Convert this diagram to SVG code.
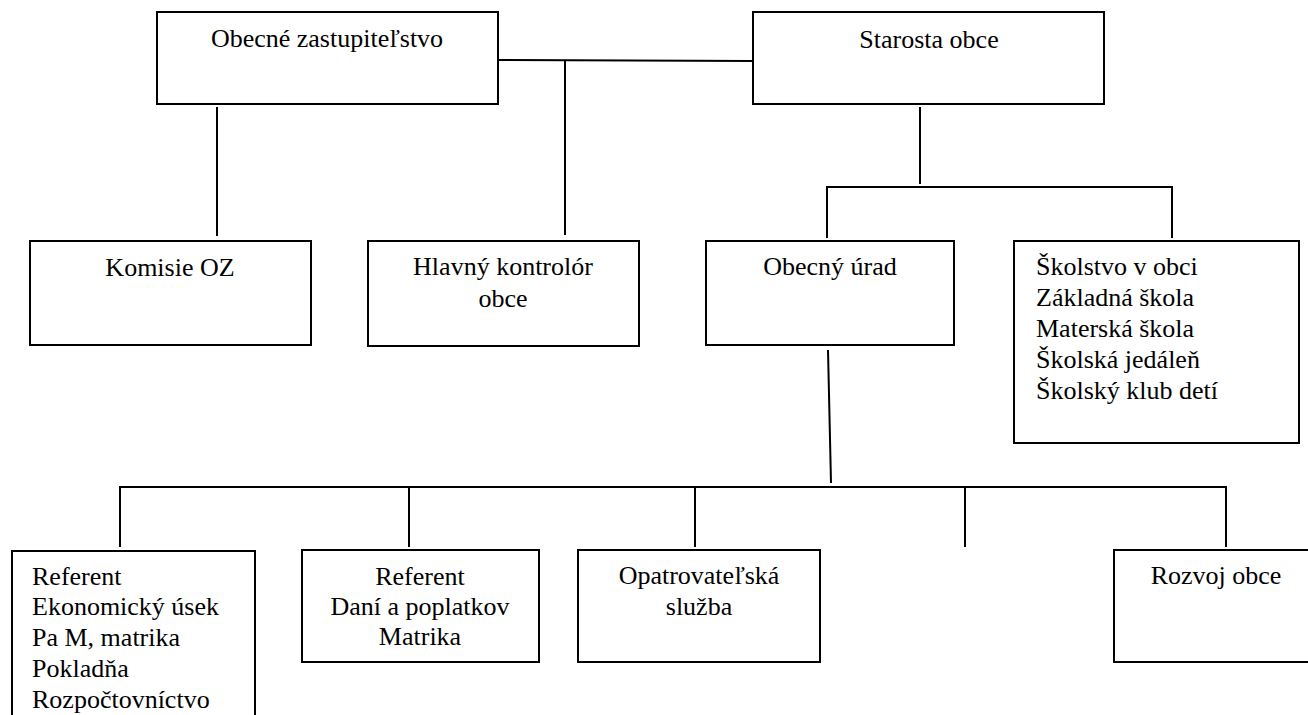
<svg xmlns="http://www.w3.org/2000/svg" width="1308" height="715" viewBox="0 0 1308 715">
<style>
.box{fill:#fff;stroke:#000;stroke-width:2}
.ln{stroke:#000;stroke-width:2;fill:none}
text{font-family:'Liberation Serif','Times New Roman',serif;font-size:26px;fill:#000}
.c{text-anchor:middle}
</style>
<rect width="1308" height="715" fill="#fff"/>
<g id="connectors">
<path class="ln" d="M498,60 L753,61"/>
<path class="ln" d="M565,60 V235"/>
<path class="ln" d="M217,107 V236"/>
<path class="ln" d="M920,107 V184"/>
<path class="ln" d="M827,238 V187 H1172 V238"/>
<path class="ln" d="M828,350 L831,483"/>
<path class="ln" d="M120,547 V487 H1226 V547"/>
<path class="ln" d="M409,487 V547"/>
<path class="ln" d="M695,487 V547"/>
<path class="ln" d="M965,487 V547"/>
</g>
<g id="n-zastupitelstvo">
<rect class="box" x="157" y="12" width="341" height="92"/>
<text class="c" x="327" y="47">Obecné zastupiteľstvo</text>
</g>
<g id="n-starosta">
<rect class="box" x="753" y="12" width="351" height="92"/>
<text class="c" x="929" y="48">Starosta obce</text>
</g>
<g id="n-komisie">
<rect class="box" x="30" y="241" width="281" height="104"/>
<text class="c" x="170" y="276">Komisie OZ</text>
</g>
<g id="n-kontrolor">
<rect class="box" x="368" y="241" width="271" height="105"/>
<text class="c" x="503" y="275">Hlavný kontrolór</text>
<text class="c" x="503" y="307">obce</text>
</g>
<g id="n-urad">
<rect class="box" x="706" y="241" width="248" height="104"/>
<text class="c" x="830" y="275">Obecný úrad</text>
</g>
<g id="n-skolstvo">
<rect class="box" x="1014" y="241" width="285" height="202"/>
<text x="1036" y="275">Školstvo v obci</text>
<text x="1036" y="306">Základná škola</text>
<text x="1036" y="337">Materská škola</text>
<text x="1036" y="368">Školská jedáleň</text>
<text x="1036" y="399">Školský klub detí</text>
</g>
<g id="n-referent1">
<rect class="box" x="12" y="551" width="243" height="180"/>
<text x="32" y="585">Referent</text>
<text x="32" y="615">Ekonomický úsek</text>
<text x="32" y="646">Pa M, matrika</text>
<text x="32" y="677">Pokladňa</text>
<text x="32" y="708">Rozpočtovníctvo</text>
</g>
<g id="n-referent2">
<rect class="box" x="302" y="550" width="237" height="112"/>
<text class="c" x="420" y="585">Referent</text>
<text class="c" x="420" y="615">Daní a poplatkov</text>
<text class="c" x="420" y="645">Matrika</text>
</g>
<g id="n-opatrovatelska">
<rect class="box" x="578" y="550" width="242" height="112"/>
<text class="c" x="699" y="584">Opatrovateľská</text>
<text class="c" x="699" y="615">služba</text>
</g>
<g id="n-rozvoj">
<rect class="box" x="1114" y="550" width="206" height="112"/>
<text class="c" x="1216" y="584">Rozvoj obce</text>
</g>
</svg>
